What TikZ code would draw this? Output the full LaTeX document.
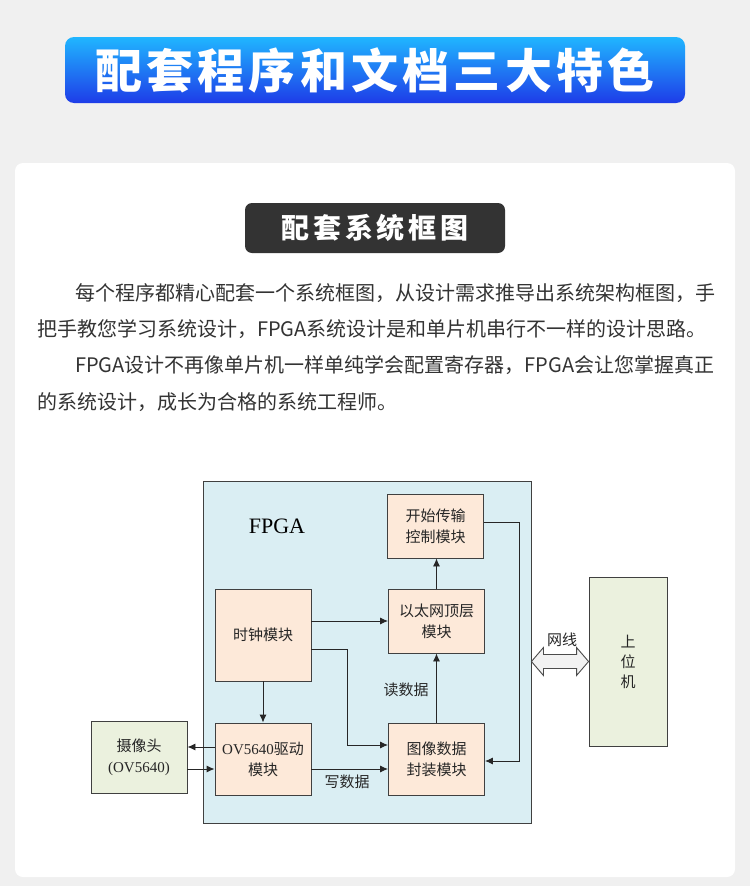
\documentclass[tikz,border=0pt]{standalone}
\usepackage{fontspec}
\setmainfont{Liberation Serif}
\newfontfamily\cjk{Noto Sans CJK SC}
\usetikzlibrary{arrows.meta,calc}
\definecolor{bgc}{HTML}{F0F0F0}
\definecolor{bannert}{HTML}{20B6FF}
\definecolor{bannerb}{HTML}{1E3CE8}
\definecolor{darkbox}{HTML}{333333}
\definecolor{txtc}{HTML}{333333}
\definecolor{boxc}{HTML}{404040}
\definecolor{fpgac}{HTML}{DAEEF3}
\definecolor{peach}{HTML}{FDE9D9}
\definecolor{greenc}{HTML}{EBF1DE}
\definecolor{arrc}{HTML}{F2F2F2}
\begin{document}
\begin{tikzpicture}[x=1pt,y=-1pt,
  blk/.style={draw=boxc, line width=0.9pt, fill=peach, minimum width=96pt, inner sep=0pt, align=center, text=black!85, font=\cjk\fontsize{15}{21}\selectfont},
  arr/.style={-{Latex[length=8pt,width=7pt]}, line width=0.9pt, black!85},
  lbl/.style={inner sep=0pt, text=black!85, font=\cjk\fontsize{15}{18}\selectfont},
  para/.style={anchor=west, inner sep=0pt, text=txtc, font=\cjk\fontsize{20}{24}\selectfont}]
\fill[bgc] (0,0) rectangle (750,886);
\useasboundingbox (0,0) rectangle (750,886);
\node[fill=white, rounded corners=8pt, minimum width=720pt, minimum height=714pt, inner sep=0pt] (card) at (375,520) {};
\node[rounded corners=9pt, top color=bannert, bottom color=bannerb, minimum width=620pt, minimum height=66pt, inner sep=0pt, text=white, font=\cjk\bfseries\fontsize{47}{50}\selectfont\addfontfeature{LetterSpace=9}] (title) at (375,70) {配套程序和文档三大特色};
\node[fill=darkbox, rounded corners=7pt, minimum width=260pt, minimum height=50pt, inner sep=0pt, text=white, font=\cjk\bfseries\fontsize{28}{30}\selectfont\addfontfeature{LetterSpace=13}] (sub) at (375,228) {配套系统框图};
\node[para] (p1) at (75,293) {每个程序都精心配套一个系统框图，从设计需求推导出系统架构框图，手};
\node[para] (p2) at (37,329) {把手教您学习系统设计，FPGA系统设计是和单片机串行不一样的设计思路。};
\node[para] (p3) at (75,365) {FPGA设计不再像单片机一样单纯学会配置寄存器，FPGA会让您掌握真正};
\node[para] (p4) at (37,402) {的系统设计，成长为合格的系统工程师。};
% diagram
\node[draw=boxc, fill=fpgac, line width=0.9pt, minimum width=328pt, minimum height=342pt, inner sep=0pt] (fpga) at (367,652) {};
\node[inner sep=0pt, font=\fontsize{22}{24}\selectfont] (fpgal) at (277,526) {FPGA};
\node[blk, minimum height=64pt] (start) at (435.5,526) {开始传输\\控制模块};
\node[blk, minimum height=64pt] (eth) at (436.5,621) {以太网顶层\\模块};
\node[blk, minimum height=92pt] (clk) at (263,635) {时钟模块};
\node[blk, minimum height=72pt] (ov) at (263,759) {{\rmfamily OV5640}驱动\\模块};
\node[blk, minimum height=72pt] (pkg) at (436.5,759) {图像数据\\封装模块};
\node[blk, fill=greenc, minimum height=72pt] (cam) at (139,757) {摄像头\\{\rmfamily (OV5640)}};
\node[blk, fill=greenc, minimum width=78pt, minimum height=169pt, font=\cjk\fontsize{15}{20}\selectfont] (pc) at (628,661.5) {上\\位\\机};
% connectors
\draw[arr] (eth.north) -- (eth.north |- start.south);
\draw[arr] (clk.east |- eth.west) -- (eth.west);
\draw[arr] ($(clk.east)+(0,14)$) -- ++(36,0) |- ($(pkg.west)+(0,-14)$);
\draw[arr] (clk.south) -- (ov.north);
\draw[arr] ($(ov.west)+(0,-12)$) coordinate (t1) -- (t1 -| cam.east);
\draw[arr] ($(cam.east)+(0,12)$) coordinate (t2) -- (t2 -| ov.west);
\draw[arr] ($(ov.east)+(0,10)$) coordinate (t3) -- (t3 -| pkg.west);
\draw[arr] (pkg.north) -- (pkg.north |- eth.south);
\draw[arr] ($(start.east)+(0,-4)$) -- ++(35,0) |- ($(pkg.east)+(0,2)$);
\node[lbl] (wr) at (347,782) {写数据};
\node[lbl] (rd) at (406,690) {读数据};
% double arrow (network cable)
\coordinate (dl) at (fpga.east |- pc.west);
\coordinate (dr) at (pc.west);
\draw[fill=arrc, draw=black!70, line width=0.9pt] (dl) -- ++(12,-14) -- ++(0,7) -- ($(dr)+(-12,-7)$) -- ++(0,-7) -- (dr) -- ++(-12,14) -- ++(0,-7) -- ($(dl)+(12,7)$) -- ++(0,7) -- cycle;
\node[lbl] (net) at (562,640) {网线};
\end{tikzpicture}
\end{document}
